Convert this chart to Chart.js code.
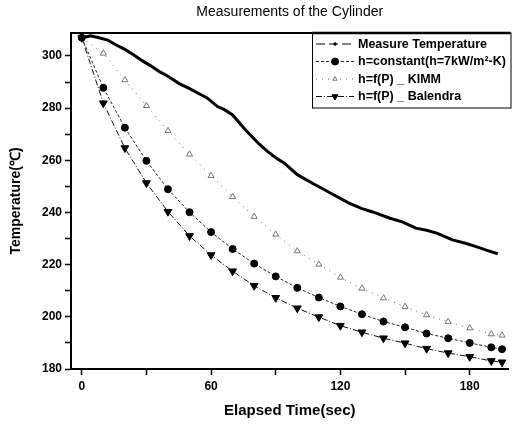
<!DOCTYPE html>
<html>
<head>
<meta charset="utf-8">
<script src="https://cdn.jsdelivr.net/npm/chart.js@4.4.1/dist/chart.umd.min.js"></script>
<style>
  html, body { margin: 0; padding: 0; background: #fff; }
  #wrap { width: 514px; height: 424px; }
</style>
</head>
<body>
<div id="wrap"><canvas id="chart"></canvas></div>
<script>
const measTime = [0, 2, 4, 8, 12, 16, 20, 24, 28, 32, 36, 40, 45, 50, 54, 58, 63, 66, 70, 73, 76, 79, 82, 86, 90, 94, 100, 107, 112, 117, 124, 130, 135, 143, 149, 155, 160, 165, 172, 178, 183, 188, 193]
const measTemp = [307, 307.3, 307.7, 307.0, 306.1, 304.2, 302.5, 300.5, 298.2, 296.2, 294.0, 292.2, 289.5, 287.5, 285.7, 284.0, 280.6, 279.5, 277.4, 274.5, 271.6, 269.0, 266.5, 263.5, 261.0, 258.9, 254.5, 251.2, 249.0, 246.7, 243.6, 241.5, 240.2, 237.8, 236.3, 234.0, 233.2, 232.0, 229.5, 228.2, 226.9, 225.5, 224.2]

// calculated curves
const calcTime = [0, 10, 20, 30, 40, 50, 60, 70, 80, 90, 100, 110, 120, 130, 140, 150, 160, 170, 180, 190, 195]
const constTemp = [307, 287.8, 272.5, 259.8, 248.9, 240.1, 232.5, 226.0, 220.4, 215.5, 211.1, 207.4, 204.0, 201.0, 198.2, 196.0, 193.6, 191.8, 190.0, 188.3, 187.6]
const kimmTemp = [307, 301.0, 290.8, 280.9, 271.3, 262.3, 254.1, 246.0, 238.4, 231.6, 225.2, 220.1, 215.1, 210.9, 207.2, 203.9, 200.7, 198.1, 195.7, 193.4, 192.9]
const balendraTemp = [307, 281.9, 264.7, 251.3, 240.3, 231.0, 223.7, 217.5, 211.9, 207.3, 203.3, 199.9, 196.6, 194.1, 191.8, 189.9, 187.8, 186.1, 184.7, 183.1, 182.6]

const seriesNames = ['Measure Temperature', 'h=constant(h=7kW/m²-K)', 'h=f(P) _ KIMM', 'h=f(P) _ Balendra']

const xTicks = [0, 30, 60, 90, 120, 150, 180]
const xLabels = [0, 60, 120, 180]
const yTicks = [180, 190, 200, 210, 220, 230, 240, 250, 260, 270, 280, 290, 300]
const yLabels = [180, 200, 220, 240, 260, 280, 300]

const FONT = "'Liberation Sans', Arial, sans-serif"

const toXY = (xs, ys) => xs.map((x, i) => ({ x: x, y: ys[i] }))

// legend box in the top right corner + top frame line
const boxLegend = {
  id: 'boxLegend',
  afterDraw(chart) {
    const ctx = chart.ctx
    const area = chart.chartArea
    ctx.save()
    // top frame
    ctx.strokeStyle = '#000'
    ctx.lineWidth = 2
    ctx.beginPath()
    ctx.moveTo(area.left, area.top)
    ctx.lineTo(area.right, area.top)
    ctx.stroke()

    const x0 = 312, y0 = area.top, x1 = area.right + 2, y1 = 108
    ctx.fillStyle = '#fff'
    ctx.fillRect(x0, y0, x1 - x0, y1 - y0)
    ctx.lineWidth = 1
    ctx.strokeRect(x0 + 0.5, y0, x1 - x0, y1 - y0)
    ctx.lineWidth = 2.5
    ctx.beginPath()
    ctx.moveTo(x0, y0)
    ctx.lineTo(x1, y0)
    ctx.stroke()

    chart.data.datasets.forEach((ds, i) => {
      const y = y0 + 11 + i * 17.5
      ctx.save()
      ctx.strokeStyle = ds.borderColor
      ctx.lineWidth = 1
      ctx.setLineDash(ds.legendDash || ds.borderDash || [])
      ctx.beginPath()
      ctx.moveTo(316, y)
      ctx.lineTo(354, y)
      ctx.stroke()
      ctx.restore()
      ctx.fillStyle = ds.pointBackgroundColor
      ctx.strokeStyle = ds.pointBorderColor
      ctx.lineWidth = 1
      Chart.helpers.drawPoint(ctx, {
        pointStyle: ds.pointStyle,
        radius: ds.legendRadius || ds.pointRadius,
        rotation: ds.pointRotation || 0,
        borderWidth: 1
      }, 335, y)
      ctx.fillStyle = '#000'
      ctx.font = 'bold 12.5px ' + FONT
      ctx.textBaseline = 'middle'
      ctx.textAlign = 'left'
      ctx.fillText(ds.label, 358, y + 0.5)
    })
    ctx.restore()
  }
}

const chart = new Chart(document.getElementById('chart'), {
  type: 'line',
  data: {
    datasets: [{
      label: seriesNames[0],
      data: toXY(measTime, measTemp),
      borderColor: '#000',
      borderWidth: 3,
      pointRadius: 0,
      pointStyle: 'rect',
      legendRadius: 1.5,
      legendDash: [9, 4],
      pointBackgroundColor: '#000',
      pointBorderColor: '#000',
      tension: 0
    },
    {
      label: seriesNames[1],
      data: toXY(calcTime, constTemp),
      borderColor: '#222',
      borderWidth: 1,
      borderDash: [3, 2],
      pointStyle: 'circle',
      pointRadius: 3.5,
      pointBackgroundColor: '#000',
      pointBorderColor: '#000'
    },
    {
      label: seriesNames[2],
      data: toXY(calcTime, kimmTemp),
      borderColor: '#666',
      borderWidth: 1,
      borderDash: [1, 5],
      pointStyle: 'triangle',
      pointRadius: 3.5,
      legendRadius: 2.5,
      pointBackgroundColor: '#fff',
      pointBorderColor: '#777'
    },
    {
      label: seriesNames[3],
      data: toXY(calcTime, balendraTemp),
      borderColor: '#111',
      borderWidth: 1,
      borderDash: [6, 2, 1, 2],
      pointStyle: 'triangle',
      pointRotation: 180,
      pointRadius: 4.5,
      legendRadius: 3.5,
      pointBackgroundColor: '#000',
      pointBorderColor: '#000'
    }]
  },
  options: {
    responsive: true,
    maintainAspectRatio: false,
    animation: false,
    layout: { padding: { left: 0, right: 0, top: 0, bottom: 0 } },
    plugins: {
      legend: { display: false },
      tooltip: { enabled: false },
      title: {
        display: true,
        text: 'Measurements of the Cylinder',
        color: '#000',
        fullSize: false,
        font: { family: FONT, size: 14, weight: 'normal' },
        padding: { top: 4, bottom: 12.2 }
      }
    },
    scales: {
      x: {
        type: 'linear',
        min: -5,
        max: 198,
        afterBuildTicks: (scale) => { scale.ticks = xTicks.map(v => ({ value: v })) },
        afterFit: (scale) => { scale.height = 55 },
        ticks: {
          autoSkip: false,
          maxRotation: 0,
          padding: 4,
          color: '#000',
          font: { family: FONT, size: 12, weight: 'bold' },
          callback: (v) => xLabels.includes(v) ? String(v) : ''
        },
        grid: { drawOnChartArea: false, tickLength: 6, tickColor: '#000', tickWidth: 1.5 },
        border: { color: '#000', width: 2 },
        title: {
          display: true,
          text: 'Elapsed Time(sec)',
          color: '#000',
          font: { family: FONT, size: 15, weight: 'bold' },
          padding: { top: 2, bottom: 4 }
        }
      },
      y: {
        min: 180,
        max: 308.8,
        afterBuildTicks: (scale) => { scale.ticks = yTicks.map(v => ({ value: v })) },
        afterFit: (scale) => { scale.width = 71 },
        ticks: {
          autoSkip: false,
          padding: 3,
          color: '#000',
          font: { family: FONT, size: 12, weight: 'bold' },
          callback: (v) => yLabels.includes(v) ? String(v) : ''
        },
        grid: { drawOnChartArea: false, tickLength: 6, tickColor: '#000', tickWidth: 1.5 },
        border: { color: '#000', width: 2 },
        title: {
          display: true,
          text: 'Temperature(℃)',
          color: '#000',
          font: { family: FONT, size: 14, weight: 'bold' },
          padding: { top: 8, bottom: 0 }
        }
      }
    }
  },
  plugins: [boxLegend]
})
</script>
</body>
</html>
